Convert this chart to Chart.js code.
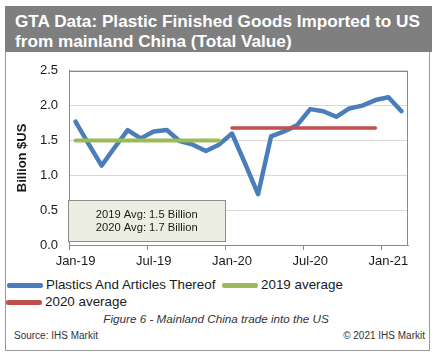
<!DOCTYPE html>
<html>
<head>
<meta charset="utf-8">
<script src="https://cdn.jsdelivr.net/npm/chart.js@4.4.1/dist/chart.umd.min.js"></script>
<style>
  html, body { margin:0; padding:0; background:#fff; }
  body { width:442px; height:360px; position:relative; overflow:hidden; font-family:'Liberation Sans', Arial, sans-serif; }
  #frame { position:absolute; left:5px; top:6px; width:425px; height:345px; border:1px solid #9a9a9a; box-sizing:border-box; }
  #titleband { position:absolute; left:5px; top:6px; width:427px; height:46px; background:#7f7f7f; color:#fff;
     font-weight:bold; font-size:17.2px; line-height:20px; box-sizing:border-box; padding:5px 0 0 10px; white-space:nowrap; }
  #chartwrap { position:absolute; left:0; top:52px; width:442px; height:220px; }
  .leg { position:absolute; height:16px; font-size:13.4px; line-height:16px; color:#1a1a1a; white-space:nowrap; }
  .leg .sw { position:absolute; left:0; top:6px; width:36px; height:5px; border-radius:2px; }
  .leg .tx { position:absolute; left:39px; top:0; }
  #caption { position:absolute; left:0; width:432px; top:312px; text-align:center; font-style:italic; font-size:11.7px; color:#333; }
  #src { position:absolute; left:14px; top:330px; font-size:10px; color:#333; }
  #copy { position:absolute; right:17px; top:330px; font-size:10px; color:#333; }
</style>
</head>
<body>
<div id="frame"></div>
<div id="titleband">GTA Data: Plastic Finished Goods Imported to US<br>from mainland China (Total Value)</div>
<div id="chartwrap"><canvas id="c" width="442" height="220"></canvas></div>
<div id="legend"></div>
<div id="caption">Figure 6 - Mainland China trade into the US</div>
<div id="src">Source: IHS Markit</div>
<div id="copy">© 2021 IHS Markit</div>
<script>
const months = ['Jan-19','Feb-19','Mar-19','Apr-19','May-19','Jun-19','Jul-19','Aug-19','Sep-19','Oct-19','Nov-19','Dec-19',
                'Jan-20','Feb-20','Mar-20','Apr-20','May-20','Jun-20','Jul-20','Aug-20','Sep-20','Oct-20','Nov-20','Dec-20',
                'Jan-21','Feb-21'];
const plastics = [1.77,1.45,1.14,1.40,1.65,1.53,1.63,1.65,1.49,1.44,1.35,1.44,
                  1.60,1.17,0.73,1.56,1.63,1.72,1.95,1.92,1.84,1.96,2.00,2.08,
                  2.12,1.92];
const avg2019 = [1.5,1.5,1.5,1.5,1.5,1.5,1.5,1.5,1.5,1.5,1.5,1.5,
                 null,null,null,null,null,null,null,null,null,null,null,null,
                 null,null];
const avg2020 = [null,null,null,null,null,null,null,null,null,null,null,null,
                 1.68,1.68,1.68,1.68,1.68,1.68,1.68,1.68,1.68,1.68,1.68,1.68,
                 null,null];
const yTicks = [0,0.5,1.0,1.5,2.0,2.5];
const seriesNames = ['Plastics And Articles Thereof','2019 average','2020 average'];
const noteLines = ['2019 Avg: 1.5 Billion','2020 Avg: 1.7 Billion'];

const BLUE = '#4a7ebb', GREEN = '#9bbb59', RED = '#c0504d';
const FONT = "'Liberation Sans', Arial, sans-serif";

const boxPlugin = {
  id: 'boxPlugin',
  afterDraw(chart) {
    const {ctx, chartArea:a, scales} = chart;
    ctx.save();
    ctx.strokeStyle = '#8a8a8a';
    ctx.lineWidth = 1;
    ctx.strokeRect(Math.round(a.left)+0.5, Math.round(a.top)+0.5, Math.round(a.right-a.left)-1, Math.round(a.bottom-a.top));
    const x0 = a.left - 1;
    const x1 = (scales.x.getPixelForValue(11) + scales.x.getPixelForValue(12)) / 2;
    const y0 = scales.y.getPixelForValue(0.64);
    const y1 = scales.y.getPixelForValue(0.045);
    ctx.fillStyle = '#ebeee1';
    ctx.fillRect(x0, y0, x1 - x0, y1 - y0);
    ctx.strokeStyle = '#8c8c8c';
    ctx.strokeRect(Math.round(x0)+0.5, Math.round(y0)+0.5, Math.round(x1-x0), Math.round(y1-y0));
    ctx.fillStyle = '#1a1a1a';
    ctx.font = '11.2px ' + FONT;
    ctx.textAlign = 'center';
    ctx.textBaseline = 'middle';
    const cx = (x0 + x1) / 2, cy = (y0 + y1) / 2;
    ctx.fillText(noteLines[0], cx, cy - 6.3);
    ctx.fillText(noteLines[1], cx, cy + 6.3);
    ctx.restore();
  }
};

const chart = new Chart(document.getElementById('c'), {
  type: 'line',
  data: {
    labels: months,
    datasets: [
      { label: seriesNames[0], data: plastics, borderColor: BLUE, backgroundColor: BLUE, borderWidth: 4.5, order: 2 },
      { label: seriesNames[1], data: avg2019, borderColor: GREEN, backgroundColor: GREEN, borderWidth: 4, order: 1 },
      { label: seriesNames[2], data: avg2020, borderColor: RED, backgroundColor: RED, borderWidth: 3.5, order: 1 }
    ]
  },
  options: {
    responsive: false,
    animation: false,
    devicePixelRatio: 1,
    layout: { padding: { top: 11, right: 34, left: 0, bottom: 0 } },
    elements: {
      point: { radius: 0, hoverRadius: 0 },
      line: { tension: 0, borderCapStyle: 'round', borderJoinStyle: 'round', spanGaps: false }
    },
    plugins: { legend: { display: false }, tooltip: { enabled: false } },
    scales: {
      x: {
        type: 'category',
        offset: true,
        afterFit(s) { s.height = 27; },
        grid: {
          offset: true,
          drawOnChartArea: false,
          drawTicks: true,
          tickLength: 5,
          color: (c) => (c.index % 6 === 0 ? '#8a8a8a' : 'rgba(0,0,0,0)')
        },
        border: { display: true, color: '#8a8a8a' },
        ticks: {
          autoSkip: false,
          maxRotation: 0,
          padding: 4,
          color: '#1a1a1a',
          font: { family: FONT, size: 13 },
          callback: function (v, i) { return i % 6 === 0 ? this.getLabelForValue(v) : ''; }
        }
      },
      y: {
        min: 0, max: 2.5,
        afterFit(s) { s.width = 69; },
        afterBuildTicks(s) { s.ticks = yTicks.map(v => ({ value: v })); },
        grid: { color: '#d9d9d9', drawTicks: false, tickLength: 0 },
        border: { display: true, color: '#8a8a8a' },
        ticks: {
          padding: 11,
          color: '#1a1a1a',
          font: { family: FONT, size: 13 },
          callback: (v) => Number(v).toFixed(1)
        },
        title: {
          display: true, text: 'Billion $US', color: '#1a1a1a',
          font: { family: FONT, size: 13, weight: 'bold' },
          padding: { top: 15, bottom: 0 }
        }
      }
    }
  },
  plugins: [boxPlugin]
});

const legendPos = [ {left: 7, top: 277}, {left: 222, top: 277}, {left: 6, top: 294} ];
const legendEl = document.getElementById('legend');
chart.data.datasets.forEach((ds, i) => {
  const d = document.createElement('div');
  d.className = 'leg';
  d.style.left = legendPos[i].left + 'px';
  d.style.top = legendPos[i].top + 'px';
  d.innerHTML = '<span class="sw" style="background:' + ds.borderColor + '"></span><span class="tx">' + ds.label + '</span>';
  legendEl.appendChild(d);
});
</script>
</body>
</html>
